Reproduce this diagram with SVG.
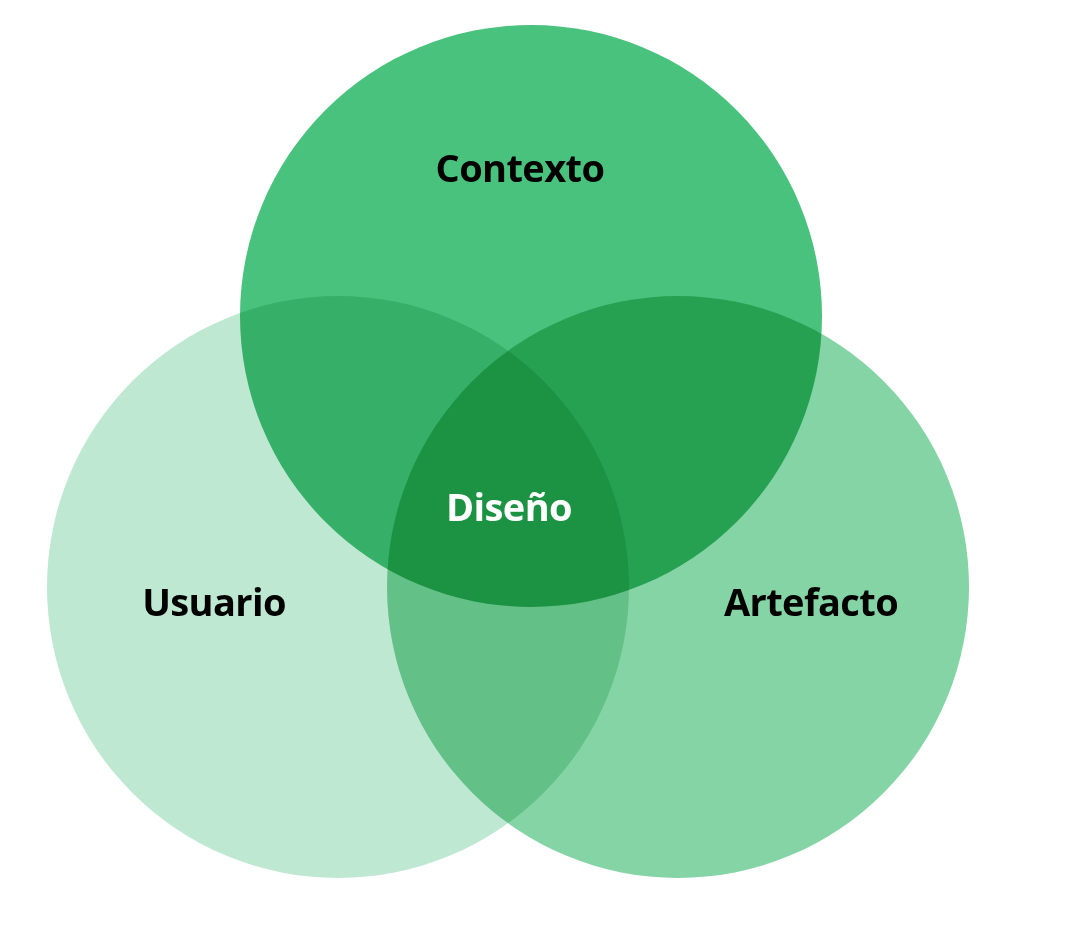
<svg xmlns="http://www.w3.org/2000/svg" width="1070" height="942" viewBox="0 0 1070 942">
<style>
.c{mix-blend-mode:multiply}
.t{font-family:"Open Sans","Noto Sans","DejaVu Sans",sans-serif;font-weight:700;font-size:38px;letter-spacing:-0.6px;text-anchor:middle}
</style>
<rect width="1070" height="942" fill="#ffffff"/>
<g style="isolation:isolate">
<g id="usuario"><circle class="c" cx="338" cy="587" r="291" fill="#bfe8d3"/></g>
<g id="artefacto"><circle class="c" cx="678" cy="587" r="291" fill="#84d4a5"/></g>
<g id="contexto"><circle class="c" cx="531" cy="316" r="291" fill="#48c27d"/></g>
</g>
<g id="labels">
<text class="t" x="520" y="182" fill="#000">Contexto</text>
<text class="t" x="214" y="616" fill="#000">Usuario</text>
<text class="t" x="811" y="616" fill="#000">Artefacto</text>
<text class="t" x="509" y="521" fill="#fff">Diseño</text>
</g>
</svg>
